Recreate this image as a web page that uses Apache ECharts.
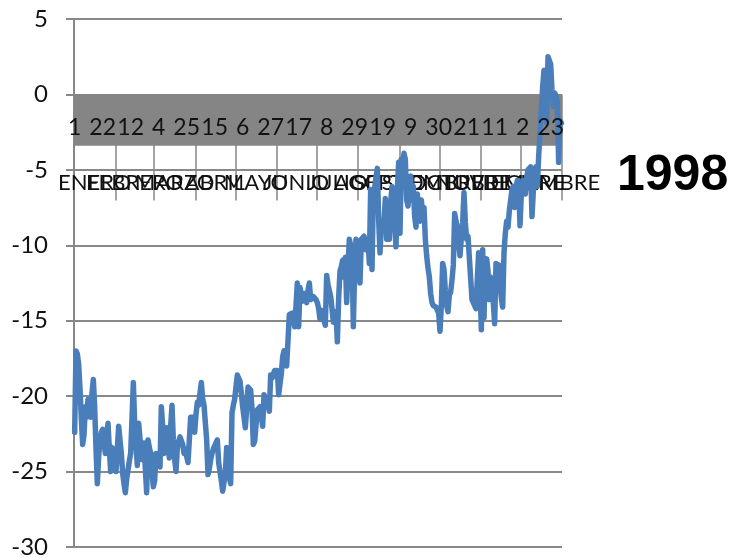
<!DOCTYPE html>
<html><head><meta charset="utf-8">
<script src="https://cdn.jsdelivr.net/npm/echarts@6/dist/echarts.min.js"></script>
<style>html,body{margin:0;padding:0;background:#fff}#c{width:737px;height:558px}</style>
</head><body><div id="c"></div>
<script>
// ---- data ----
const monthNames = ['ENERO','FEBRERO','MARZO','ABRIL','MAYO','JUNIO','JULIO','AGOSTO','SEPTIEMBRE','OCTUBRE','NOVIEMBRE','DICIEMBRE'];
const monthLengths = [31,29,31,30,31,30,31,31,30,31,30,31];
const dayLabelStep = 21; // a day-number label every 21 categories
const yearLabel = '1998';

const ene = [-22.4,-17.0,-17.2,-17.9,-19.5,-21.5,-23.2,-22.6,-20.7,-21.4,-20.2,-20.6,-21.4,-19.8,-18.9,-20.7,-23.5,-25.8,-24.0,-22.9,-22.4,-22.2,-23.0,-23.8,-22.8,-21.8,-23.5,-25.0,-23.4,-24.0,-23.6];
const feb = [-25.0,-23.5,-22.0,-22.1,-23.8,-25.1,-25.8,-26.4,-25.5,-24.9,-24.3,-23.8,-21.5,-19.1,-21.8,-23.2,-24.6,-21.8,-22.8,-24.2,-23.6,-23.1,-24.8,-26.4,-22.9,-23.4,-23.8,-25.0,-26.0];
const mar = [-25.6,-23.8,-24.2,-23.8,-24.7,-20.7,-22.0,-23.8,-22.8,-22.1,-23.0,-24.1,-22.0,-20.6,-22.9,-24.2,-25.0,-23.4,-23.0,-22.7,-22.6,-23.2,-23.8,-23.5,-24.0,-24.4,-22.9,-21.4,-21.5,-21.4,-22.4];
const abr = [-21.2,-20.4,-20.6,-19.8,-19.1,-20.2,-20.6,-20.5,-22.9,-25.2,-24.8,-24.2,-23.8,-23.5,-23.3,-23.1,-22.9,-24.4,-25.0,-25.6,-26.3,-25.7,-25.1,-23.4,-25.0,-25.4,-25.8,-21.1,-20.6,-20.2];
const may = [-19.4,-18.6,-18.7,-19.0,-19.8,-20.7,-21.4,-22.1,-20.8,-19.4,-19.5,-19.6,-20.8,-23.2,-23.0,-22.9,-20.9,-20.8,-20.7,-21.3,-22.0,-19.9,-20.1,-20.0,-20.5,-21.0,-18.6,-18.8,-18.9,-18.3,-18.4];
const jun = [-18.3,-19.9,-19.8,-18.5,-17.4,-17.0,-16.9,-18.0,-18.0,-14.6,-14.7,-14.5,-14.8,-15.4,-14.0,-12.5,-15.4,-12.8,-13.3,-13.7,-13.2,-13.5,-13.8,-13.0,-12.5,-13.6,-13.5,-13.4,-13.5,-13.6];
const jul = [-13.8,-14.2,-14.9,-14.3,-14.4,-15.0,-15.3,-12.0,-12.6,-13.0,-13.4,-14.2,-15.1,-14.6,-14.4,-16.4,-13.5,-11.7,-11.4,-11.0,-12.1,-10.8,-13.8,-11.5,-9.6,-10.0,-10.3,-15.4,-11.6,-9.6,-9.9];
const ago = [-10.3,-12.5,-9.6,-9.5,-9.4,-10.3,-9.9,-9.6,-11.2,-6.3,-11.6,-6.5,-6.2,-5.5,-4.9,-8.3,-10.5,-8.7,-8.6,-8.5,-6.9,-9.6,-9.6,-9.6,-7.2,-6.1,-6.9,-8.5,-10.1,-6.3,-4.5];
const sep = [-9.2,-4.3,-4.6,-3.9,-4.3,-7.0,-7.4,-6.4,-5.4,-7.0,-6.1,-8.1,-8.8,-6.6,-7.5,-8.4,-7.0,-7.9,-7.5,-9.6,-10.7,-11.5,-12.1,-13.2,-13.8,-14.0,-14.0,-14.1,-14.0,-14.5];
const oct = [-15.7,-14.0,-11.2,-11.6,-13.0,-14.0,-14.4,-13.3,-13.1,-12.3,-11.3,-7.9,-8.4,-8.8,-9.9,-10.7,-9.5,-8.5,-6.5,-8.5,-9.6,-9.4,-10.8,-12.2,-13.6,-13.8,-14.0,-14.2,-12.2,-10.5,-12.5];
const nov = [-15.6,-10.3,-14.8,-11.3,-10.9,-11.7,-13.6,-12.1,-12.8,-13.8,-15.2,-11.2,-11.7,-11.3,-12.5,-13.5,-14.1,-10.5,-9.2,-8.4,-8.8,-7.7,-7.0,-6.3,-6.1,-7.5,-6.2,-5.7,-5.9,-8.7];
const dic = [-6.6,-5.7,-6.2,-6.6,-5.5,-5.0,-4.9,-4.8,-8.1,-6.4,-5.7,-4.8,-6.1,-4.1,-2.6,-1.0,0.5,1.6,1.6,-1.9,2.5,2.6,2.0,0.3,-0.8,0.1,-0.1,-0.5,-4.5,-1.7,-1.9];

const yMin = -30, yMax = 5, yStep = 5;
const bandTop = 0, bandBottom = -3.4;

// ---- build ----
const values = [].concat(ene, feb, mar, abr, may, jun, jul, ago, sep, oct, nov, dic);
const categories = [], dayOfMonth = [], monthOf = [];
const midIdx = new Set();
let start = 0;
monthLengths.forEach((len, m) => {
  for (let d = 1; d <= len; d++) { categories.push(monthNames[m] + ' ' + d); dayOfMonth.push(d); monthOf.push(m); }
  midIdx.add(start + Math.floor((len - 1) / 2));
  start += len;
});

const FONT = 'Lato';
const gridColor = '#888888';
const L = 74, R = 175, T = 19, B = 11;
const plotH = 558 - T - B;
const zeroOffset = plotH * (yMax - 0) / (yMax - yMin); // helper grids whose bottom edge sits at value 0

const chart = echarts.init(document.getElementById('c'), null, {renderer: 'canvas'});
chart.setOption({
  animation: false,
  backgroundColor: '#ffffff',
  grid: [
    {left: L, right: R, top: T, bottom: B, outerBoundsMode: 'none', containLabel: false},
    {left: L, right: R, top: T, height: zeroOffset, outerBoundsMode: 'none', containLabel: false},
    {left: L, right: R, top: T, height: zeroOffset, outerBoundsMode: 'none', containLabel: false}
  ],
  xAxis: [
    {type: 'category', gridIndex: 0, data: categories, boundaryGap: true, show: false},
    {
      type: 'category', gridIndex: 1, data: categories, boundaryGap: true, z: 3,
      axisLine: {show: false}, axisTick: {show: false}, splitLine: {show: false},
      axisLabel: {interval: 0, margin: 22, fontSize: 23, fontFamily: FONT, color: '#111', hideOverlap: false,
        formatter: (v, i) => (i % dayLabelStep === 0 ? String(dayOfMonth[i]) : '')}
    },
    {
      type: 'category', gridIndex: 2, data: categories, boundaryGap: true, z: 0,
      axisLine: {show: false},
      axisTick: {show: true, length: 106, interval: (i) => dayOfMonth[i] === 1,
        lineStyle: {color: gridColor, width: 1.5}},
      splitLine: {show: false},
      axisLabel: {interval: 0, margin: 77, fontSize: 22, fontFamily: FONT, color: '#111', hideOverlap: false,
        formatter: (v, i) => (midIdx.has(i) ? monthNames[monthOf[i]] : '')}
    }
  ],
  yAxis: [
    {
      type: 'value', gridIndex: 0, min: yMin, max: yMax, interval: yStep,
      axisLine: {show: true, onZero: false, lineStyle: {color: gridColor, width: 2}},
      axisTick: {show: true, length: 8, lineStyle: {color: gridColor, width: 2}},
      splitLine: {show: true, lineStyle: {color: gridColor, width: 2}},
      axisLabel: {margin: 26, fontSize: 24, fontFamily: FONT, color: '#111'}
    },
    {type: 'value', gridIndex: 1, min: 0, max: 1, show: false},
    {type: 'value', gridIndex: 2, min: 0, max: 1, show: false}
  ],
  graphic: [{
    type: 'text', x: 617, y: 176, z: 10,
    style: {text: yearLabel, font: 'bold 50px "Liberation Sans", Arial, sans-serif', fill: '#000', verticalAlign: 'middle', align: 'left'}
  }],
  series: [{
    type: 'line', xAxisIndex: 0, yAxisIndex: 0, data: values,
    symbol: 'none', showSymbol: false, z: 2,
    lineStyle: {color: '#4a7ebb', width: 5.5, join: 'round', cap: 'round'},
    markArea: {silent: true, itemStyle: {color: '#858585', opacity: 1},
      data: [[{yAxis: bandTop}, {yAxis: bandBottom}]]}
  }]
});
</script></body></html>
